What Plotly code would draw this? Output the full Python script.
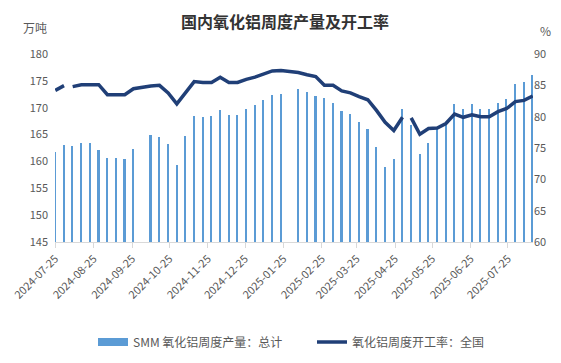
import plotly.graph_objects as go

# ---- data ----
weeks = [
    "2024-07-25", "2024-08-01", "2024-08-08", "2024-08-15", "2024-08-22", "2024-08-29",
    "2024-09-05", "2024-09-12", "2024-09-19", "2024-09-26", "2024-10-03", "2024-10-10",
    "2024-10-17", "2024-10-24", "2024-10-31", "2024-11-07", "2024-11-14", "2024-11-21",
    "2024-11-28", "2024-12-05", "2024-12-12", "2024-12-19", "2024-12-26", "2025-01-02",
    "2025-01-09", "2025-01-16", "2025-01-23", "2025-01-30", "2025-02-06", "2025-02-13",
    "2025-02-20", "2025-02-27", "2025-03-06", "2025-03-13", "2025-03-20", "2025-03-27",
    "2025-04-03", "2025-04-10", "2025-04-17", "2025-04-24", "2025-05-01", "2025-05-08",
    "2025-05-15", "2025-05-22", "2025-05-29", "2025-06-05", "2025-06-12", "2025-06-19",
    "2025-06-26", "2025-07-03", "2025-07-10", "2025-07-17", "2025-07-24", "2025-07-31",
    "2025-08-07", "2025-08-14",
]

# SMM 氧化铝周度产量：总计 (万吨)
output = [
    161.8, 163.0, 162.8, 163.4, 163.4, 162.1, 160.6, 160.6, 160.4, 162.3, None, 164.9,
    164.5, 163.2, 159.3, 164.7, 168.4, 168.2, 168.4, 169.5, 168.6, 168.6, 169.7, 170.5,
    171.4, 172.3, 172.5, None, 173.4, 172.9, 172.1, 171.8, 170.8, 169.3, 168.8, 167.3,
    166.1, 162.6, 158.9, 160.4, 169.8, 166.7, 161.3, 163.4, 166.1, 167.0, 170.6, 169.8,
    170.6, 169.8, 169.8, 170.8, 171.7, 174.4, 174.7, 176.0,
]

# 氧化铝周度开工率：全国 (%)
rate = [
    84.2, 84.95, 84.8, 85.1, 85.1, 85.1, 83.5, 83.5, 83.5, 84.45, 84.7, 84.9,
    85.0, 83.8, 82.05, 83.9, 85.6, 85.45, 85.45, 86.3, 85.45, 85.45, 85.95, 86.3,
    86.8, 87.3, 87.35, 87.25, 87.05, 86.7, 86.4, 85.0, 85.0, 84.1, 83.8, 83.2,
    82.7, 81.0, 79.1, 77.8, 79.9, 79.8, 77.2, 78.1, 78.2, 78.9, 80.4, 79.9,
    80.3, 80.0, 80.0, 80.8, 81.3, 82.4, 82.6, 83.3,
]
# places where the rate line is broken in the reference
rate_breaks = ["2024-08-04", "2025-05-04"]

tick_dates = [
    "2024-07-25", "2024-08-25", "2024-09-25", "2024-10-25", "2024-11-25", "2024-12-25",
    "2025-01-25", "2025-02-25", "2025-03-25", "2025-04-25", "2025-05-25", "2025-06-25",
    "2025-07-25",
]

title_text = "国内氧化铝周度产量及开工率"
bar_name = "SMM 氧化铝周度产量：总计"
line_name = "氧化铝周度开工率：全国"

# ---- build line with gaps ----
pts = sorted(list(zip(weeks, rate)) + [(b, None) for b in rate_breaks], key=lambda p: p[0])
lx = [p[0] for p in pts]
ly = [p[1] for p in pts]

FONT = "Noto Sans CJK SC, Noto Sans, sans-serif"
GREY = "#595959"
BAR_BLUE = "#5B9BD5"
LINE_BLUE = "#203F77"
DAY = 86400000

fig = go.Figure()
fig.add_trace(go.Bar(
    x=weeks, y=output, name=bar_name, showlegend=False,
    marker=dict(color=BAR_BLUE, line=dict(width=0)),
    width=1.3 * DAY,
))
# legend entry for the bars drawn as a wide rectangle (like the reference)
fig.add_trace(go.Scatter(
    x=[None], y=[None], name=bar_name, mode="lines",
    line=dict(color=BAR_BLUE, width=8), hoverinfo="skip",
))
fig.add_trace(go.Scatter(
    x=lx, y=ly, name=line_name, yaxis="y2", mode="lines",
    line=dict(color=LINE_BLUE, width=3.5), connectgaps=False,
))

fig.update_layout(
    width=561, height=363,
    margin=dict(l=55, r=28, t=54, b=121, autoexpand=False),
    paper_bgcolor="white", plot_bgcolor="white",
    font=dict(family=FONT, size=11, color=GREY),
    showlegend=True,
    title=dict(text="<b>" + title_text + "</b>", x=0.508, xanchor="center",
               y=1 - 22 / 363, yanchor="middle",
               font=dict(family=FONT, size=16, color="#333333")),
    xaxis=dict(
        type="date",
        range=["2024-07-24T18:00", "2025-08-14T06:00"],
        tickvals=tick_dates, tickformat="%Y-%m-%d", tickangle=-45,
        showline=True, linecolor="#D9D9D9", linewidth=1,
        ticks="outside", ticklen=5, tickcolor="#D9D9D9",
        showgrid=False, zeroline=False, automargin=False,
        tickfont=dict(family=FONT, size=11, color=GREY),
    ),
    yaxis=dict(
        range=[145, 180], dtick=5, showgrid=False, zeroline=False,
        showline=False, automargin=False, ticklabelstandoff=6,
        tickfont=dict(family=FONT, size=11, color=GREY),
    ),
    yaxis2=dict(
        range=[60, 90], dtick=5, overlaying="y", side="right",
        showgrid=False, zeroline=False, showline=False, automargin=False,
        tickfont=dict(family=FONT, size=11, color=GREY),
    ),
    legend=dict(
        orientation="h", x=(93 - 55) / 478, xanchor="left",
        y=(242 - 342) / 188, yanchor="middle",
        font=dict(family=FONT, size=12, color=GREY),
        bgcolor="rgba(0,0,0,0)", itemwidth=30, entrywidth=174,
    ),
    bargap=0,
    annotations=[
        dict(text="万吨", xref="paper", yref="paper", x=(34.5 - 55) / 478,
             y=(242 - 28) / 188, xanchor="center", yanchor="middle",
             showarrow=False, font=dict(family=FONT, size=12, color=GREY)),
        dict(text="%", xref="paper", yref="paper", x=(545 - 55) / 478,
             y=(242 - 31) / 188, xanchor="center", yanchor="middle",
             showarrow=False, font=dict(family=FONT, size=12, color=GREY)),
    ],
)

fig.write_html("out.html", config={"displayModeBar": False},
               post_script="document.body.style.margin='0';")
